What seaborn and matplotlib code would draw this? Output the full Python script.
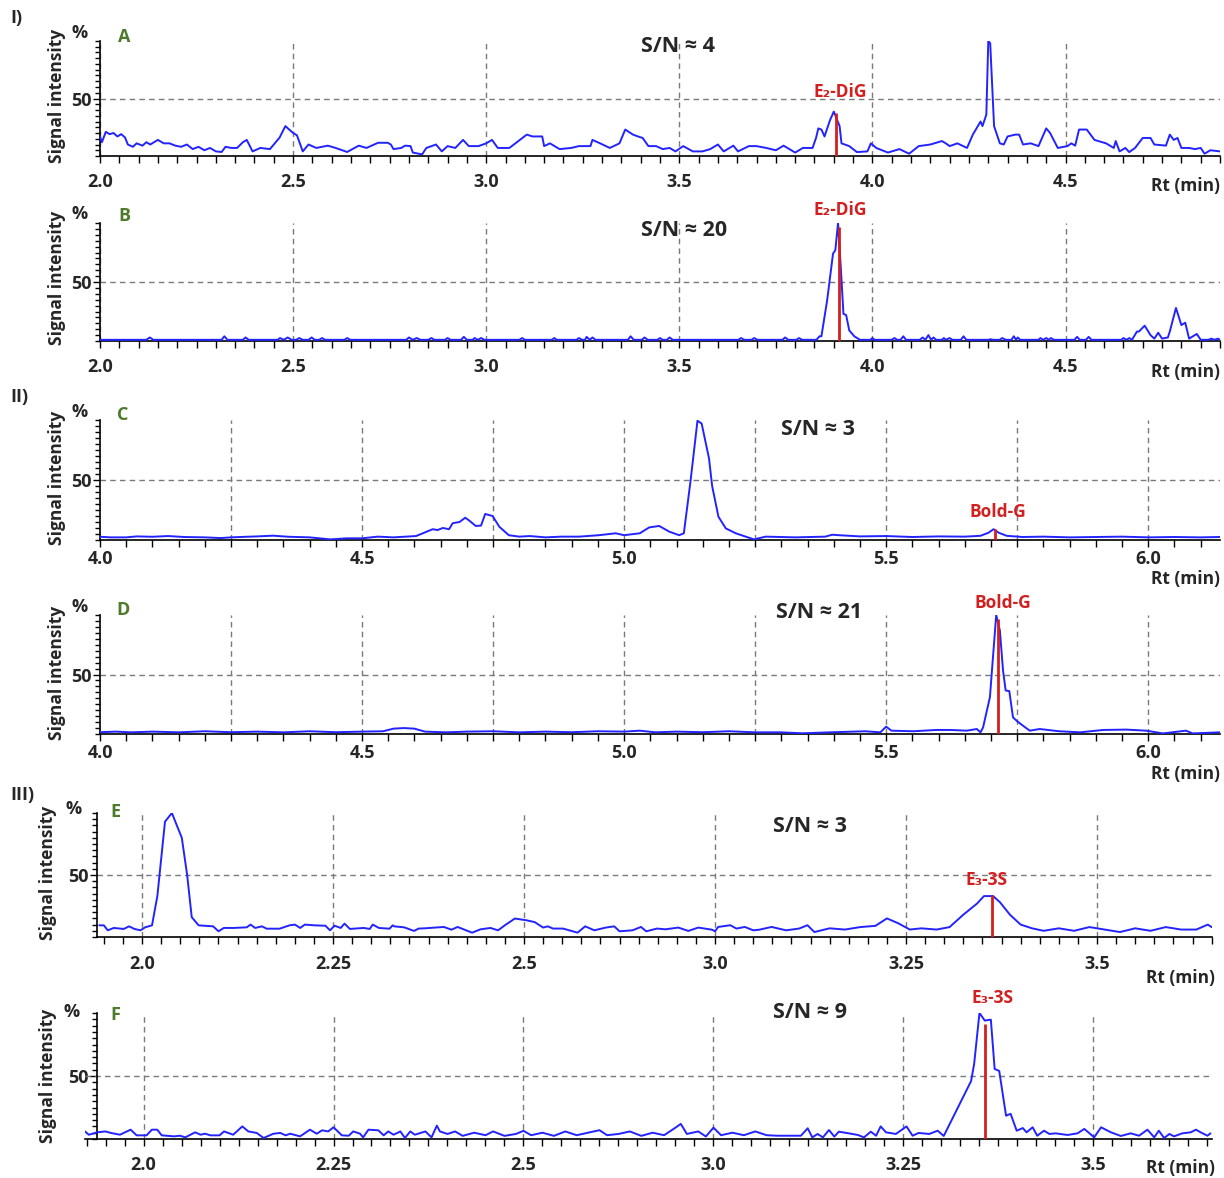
import matplotlib
matplotlib.use("Agg")
import matplotlib.pyplot as plt
from matplotlib.ticker import MultipleLocator
import seaborn as sns

# ---- data (x = Rt, y = % signal) ----
a_time = [2.000, 2.005, 2.015, 2.025, 2.035, 2.045, 2.055, 2.065, 2.072, 2.085, 2.095, 2.11, 2.12, 2.13, 2.15,
          2.165, 2.18, 2.195, 2.21, 2.225, 2.24, 2.255, 2.27, 2.285, 2.30, 2.315, 2.325, 2.34, 2.355, 2.37,
          2.38, 2.395, 2.415, 2.44, 2.455, 2.465, 2.48, 2.50, 2.51, 2.525, 2.54, 2.56, 2.59, 2.61, 2.64, 2.67,
          2.69, 2.72, 2.745, 2.753, 2.76, 2.78, 2.79, 2.804, 2.81, 2.834, 2.845, 2.87, 2.885, 2.90, 2.92, 2.94,
          2.955, 2.98, 3.00, 3.015, 3.03, 3.06, 3.105, 3.12, 3.145, 3.15, 3.165, 3.19, 3.22, 3.24, 3.27, 3.275,
          3.295, 3.32, 3.345, 3.36, 3.38, 3.393, 3.405, 3.42, 3.44, 3.457, 3.475, 3.49, 3.51, 3.535, 3.56, 3.58,
          3.60, 3.615, 3.64, 3.652, 3.68, 3.70, 3.725, 3.75, 3.77, 3.80, 3.82, 3.845, 3.854, 3.86, 3.868, 3.876,
          3.89, 3.90, 3.915, 3.92, 3.94, 3.96, 3.987, 3.996, 4.01, 4.04, 4.07, 4.095, 4.12, 4.15, 4.18, 4.19,
          4.20, 4.22, 4.245, 4.26, 4.28, 4.285, 4.295, 4.30, 4.305, 4.315, 4.33, 4.34, 4.35, 4.37, 4.38, 4.39,
          4.41, 4.43, 4.45, 4.46, 4.48, 4.505, 4.515, 4.525, 4.535, 4.555, 4.575, 4.605, 4.625, 4.63, 4.64,
          4.655, 4.665, 4.68, 4.70, 4.72, 4.73, 4.76, 4.77, 4.78, 4.79, 4.80, 4.82, 4.835, 4.85, 4.86, 4.875, 4.90]
a_signal = [17, 12, 21, 19, 20, 17, 19, 16, 10, 8, 11, 9, 12, 10, 14,
            11, 11, 9, 8, 10, 6, 8, 5, 7, 4, 3.5, 8, 7, 7, 12,
            14, 4, 7, 6, 12, 16, 26, 20, 18, 4, 10, 7, 9, 7, 3.5, 9,
            7, 11.5, 11.5, 10, 6, 7, 9, 8.6, 3, 1.4, 7, 10, 4, 8.6, 7, 14,
            8.6, 8.6, 11, 14, 7, 7, 18.6, 17, 17, 8.6, 11, 6, 7, 8.6, 8.6, 14,
            11, 7, 11, 23, 18.6, 17, 15.7, 8.6, 8.6, 6, 7, 4, 8.6, 4, 4, 6,
            10, 4, 9, 4, 8.6, 8.6, 7, 5, 9, 3, 7, 7, 15.7, 24, 23, 17,
            31, 38.6, 26, 11, 8.6, 3.4, 4, 11, 7, 3, 6, 2, 8.6, 10, 13, 11,
            8.6, 11, 7, 18.6, 30, 26, 36, 100, 98, 26, 11, 10, 17, 18.6, 18.6, 10,
            11, 8.6, 24, 20, 7, 8.6, 11, 9, 23, 23, 14, 11, 7, 13, 4,
            7, 3.4, 7, 15.7, 15.7, 10, 9, 18.6, 14, 15.7, 7, 7, 6, 7, 2, 5, 4]

b_time = [2.00, 2.12, 2.129, 2.138, 2.315, 2.322, 2.33, 2.37, 2.377, 2.385, 2.46, 2.466, 2.476, 2.486, 2.496,
          2.508, 2.516, 2.525, 2.54, 2.548, 2.556, 2.568, 2.575, 2.583, 2.633, 2.64, 2.648, 2.793, 2.80, 2.81,
          2.82, 2.83, 2.85, 2.858, 2.866, 2.893, 2.90, 2.908, 2.935, 2.942, 2.95, 2.965, 2.97, 2.978, 2.987,
          2.995, 3.086, 3.093, 3.10, 3.17, 3.176, 3.183, 3.234, 3.24, 3.248, 3.256, 3.26, 3.268, 3.275, 3.283,
          3.367, 3.374, 3.382, 3.403, 3.41, 3.418, 3.443, 3.45, 3.457, 3.468, 3.475, 3.483, 3.653, 3.66, 3.668,
          3.687, 3.694, 3.702, 3.767, 3.774, 3.782, 3.803, 3.81, 3.818, 3.855, 3.863, 3.868, 3.883, 3.898,
          3.904, 3.911, 3.918, 3.925, 3.932, 3.94, 3.953, 3.968, 3.995, 4.0, 4.006, 4.05, 4.057, 4.064, 4.073,
          4.08, 4.087, 4.123, 4.13, 4.137, 4.145, 4.152, 4.158, 4.165, 4.18, 4.185, 4.19, 4.2, 4.207, 4.229,
          4.236, 4.243, 4.30, 4.306, 4.312, 4.33, 4.336, 4.345, 4.36, 4.366, 4.372, 4.376, 4.383, 4.43, 4.435,
          4.442, 4.45, 4.457, 4.462, 4.47, 4.523, 4.53, 4.537, 4.553, 4.56, 4.567, 4.645, 4.65, 4.658, 4.665,
          4.672, 4.685, 4.69, 4.705, 4.72, 4.73, 4.74, 4.75, 4.765, 4.77, 4.786, 4.80, 4.81, 4.82, 4.83, 4.84,
          4.85, 4.87, 4.878, 4.885, 4.895, 4.90]
b_signal = [1, 1, 3, 1, 1, 4, 1, 1, 3, 1, 1, 2.5, 1, 3, 1,
            1, 2.5, 1, 1, 3, 1, 1, 2.5, 1, 1, 2.5, 1, 1, 3, 1,
            2.5, 1, 1, 2.5, 1, 1, 2.5, 1, 1, 3.5, 1, 1, 2.5, 1, 2.5,
            1, 1, 2.5, 1, 1, 2.5, 1, 1, 2.5, 1, 1, 3.5, 1, 3, 1,
            1, 4, 1, 1, 3, 1, 1, 2.5, 1, 1, 3, 1, 1, 2.5, 1,
            1, 2.5, 1, 1, 3, 1, 1, 2.5, 1, 1, 4, 4, 35, 74,
            77, 100, 63, 23, 22, 9, 4, 1, 1, 2.5, 1, 1, 2.5, 1, 1,
            4, 1, 1, 3, 1, 5, 1, 3, 1, 1, 2.5, 1, 2.5, 1, 1,
            4, 1, 1, 1.5, 1, 1, 2.5, 1, 1, 4, 1, 3, 1, 1, 2.5,
            1, 2.5, 1, 2.5, 1, 1, 3.5, 1, 1, 3.5, 1, 1, 2.5, 1, 2.5,
            1, 8, 8, 13, 5, 2, 7, 2, 3, 8, 28, 13.5, 15.5, 2, 4, 6,
            1, 1, 2, 1, 2, 1]

c_time = [4.00, 4.02, 4.05, 4.07, 4.10, 4.13, 4.16, 4.20, 4.23, 4.25, 4.28, 4.30, 4.33, 4.36, 4.40, 4.44,
          4.47, 4.50, 4.53, 4.56, 4.603, 4.616, 4.628, 4.635, 4.644, 4.654, 4.666, 4.673, 4.686, 4.697, 4.705,
          4.717, 4.727, 4.735, 4.749, 4.762, 4.78, 4.80, 4.82, 4.85, 4.88, 4.914, 4.952, 4.984, 5.0, 5.03,
          5.048, 5.067, 5.086, 5.105, 5.114, 5.127, 5.14, 5.148, 5.162, 5.168, 5.18, 5.194, 5.213, 5.232,
          5.248, 5.27, 5.327, 5.384, 5.397, 5.41, 5.45, 5.50, 5.55, 5.60, 5.65, 5.68, 5.695, 5.705, 5.715,
          5.73, 5.76, 5.80, 5.85, 5.90, 5.95, 6.00, 6.05, 6.10, 6.137]
c_signal = [2.7, 2.2, 2.2, 3, 2.7, 3.3, 2.5, 2.2, 1.6, 2.2, 2.7, 3, 3.6, 2.7, 2.2, 0.5,
            1.4, 1.4, 2.8, 2.2, 3.3, 5.6, 7.8, 9, 8.3, 10, 9, 14, 15, 18.6, 16,
            11.7, 12, 21.7, 20, 11, 4, 2.8, 3.3, 2.2, 2.8, 2.8, 4, 5.6, 4, 5.6,
            10.5, 11.7, 7, 4, 5.6, 50, 99.4, 97, 68, 45, 19.4, 9.7, 5.6, 2.8,
            0.5, 2.8, 2.2, 2.8, 4.4, 4, 3, 3.3, 2.5, 3, 2.8, 3.5, 6, 9, 6,
            3.5, 2.5, 2.8, 2.2, 2.5, 2.8, 2.2, 2.5, 2.2, 2.5]

d_time = [4.00, 4.03, 4.06, 4.10, 4.15, 4.20, 4.25, 4.30, 4.35, 4.40, 4.45, 4.50, 4.54, 4.56, 4.58, 4.60,
          4.62, 4.66, 4.70, 4.75, 4.80, 4.85, 4.90, 4.95, 5.00, 5.03, 5.06, 5.10, 5.15, 5.20, 5.25, 5.298,
          5.34, 5.393, 5.46, 5.489, 5.5, 5.51, 5.552, 5.596, 5.622, 5.654, 5.673, 5.68, 5.685, 5.698, 5.71,
          5.717, 5.723, 5.728, 5.735, 5.742, 5.75, 5.761, 5.774, 5.793, 5.83, 5.87, 5.914, 5.958, 5.996,
          6.028, 6.072, 6.085, 6.137]
d_signal = [1.5, 2, 1.4, 2, 1.4, 2.3, 1.5, 2, 1.4, 2.3, 1.5, 2, 2.3, 4.5, 5, 4.5,
            2, 1.4, 2, 2.3, 1.4, 2, 1.5, 2.3, 2, 2.8, 1.4, 2, 1.5, 2.3, 1.4, 1.4,
            0.6, 1.4, 2.3, 1.4, 6.2, 2.8, 2.3, 3.4, 3.4, 2.8, 4.2, 1.4, 5.6, 31, 100,
            87, 53.5, 36.6, 36, 14, 10.7, 7, 2.8, 4.2, 2.3, 1.4, 3.4, 3.7, 2.8,
            0.5, 2.8, 0.5, 1.4]

# panels E/F: positions on an even 0.25 grid, printed tick labels kept as in the figure
e_time = [1.944, 1.95, 1.955, 1.963, 1.976, 1.983, 1.99, 1.998, 2.004, 2.013, 2.02, 2.03, 2.039, 2.052,
          2.059, 2.065, 2.074, 2.093, 2.10, 2.107, 2.12, 2.137, 2.142, 2.148, 2.157, 2.163, 2.18, 2.193, 2.20,
          2.207, 2.213, 2.226, 2.24, 2.246, 2.252, 2.26, 2.265, 2.272, 2.29, 2.298, 2.302, 2.31, 2.324, 2.328,
          2.33, 2.343, 2.356, 2.362, 2.37, 2.395, 2.405, 2.413, 2.432, 2.443, 2.456, 2.466, 2.475, 2.488,
          2.503, 2.514, 2.525, 2.531, 2.538, 2.551, 2.57, 2.58, 2.592, 2.607, 2.618, 2.625, 2.642, 2.653,
          2.66, 2.674, 2.685, 2.702, 2.715, 2.728, 2.746, 2.75, 2.754, 2.77, 2.778, 2.789, 2.80, 2.808, 2.824,
          2.843, 2.86, 2.871, 2.88, 2.90, 2.92, 2.94, 2.96, 2.975, 2.99, 3.005, 3.02, 3.04, 3.057, 3.075,
          3.093, 3.102, 3.114, 3.123, 3.136, 3.15, 3.165, 3.18, 3.20, 3.22, 3.24, 3.26, 3.28, 3.30, 3.32,
          3.34, 3.36, 3.38, 3.395, 3.40]
e_signal = [9.4, 9.4, 5.4, 7.3, 6.5, 8.6, 6.5, 5.4, 7.8, 9.4, 33, 93, 100, 80,
            50, 16, 9.4, 8.6, 4.6, 7.3, 7.3, 7.8, 10, 7.3, 8.6, 6.7, 6.7, 9.4, 10,
            7.3, 10, 9.4, 9.1, 5.4, 9.1, 7.3, 10.8, 6.5, 7.3, 6.5, 10, 7.3, 6.7, 9.4,
            8.6, 7.8, 4.9, 6.8, 7, 8.1, 5.9, 8.1, 3.5, 6.2, 7.3, 5.4, 9.5, 14.9,
            13.5, 12, 7.6, 8.6, 6.8, 6.8, 3.5, 8.6, 5.4, 7.6, 8.6, 4.6, 5.4, 8.1,
            4.6, 6.8, 6.2, 7.6, 4.9, 7.6, 5.9, 4.6, 8.1, 9.5, 6.8, 8.1, 5.4, 5.9, 8.1,
            5.4, 6.8, 9.5, 4, 7, 6, 8, 9, 15, 11, 6, 7, 6, 8, 18,
            27, 33, 33, 28, 18, 10, 7, 5, 7, 5, 8, 6, 4, 7, 5,
            8, 6, 6, 10, 8]

f_time = [1.923, 1.928, 1.933, 1.939, 1.95, 1.957, 1.969, 1.983, 1.991, 2.004, 2.011, 2.018, 2.024, 2.04,
          2.048, 2.055, 2.068, 2.075, 2.081, 2.088, 2.10, 2.106, 2.118, 2.13, 2.138, 2.149, 2.158, 2.171, 2.18,
          2.187, 2.193, 2.206, 2.219, 2.228, 2.235, 2.243, 2.25, 2.261, 2.27, 2.276, 2.285, 2.289, 2.296, 2.309,
          2.316, 2.322, 2.329, 2.338, 2.344, 2.351, 2.357, 2.371, 2.379, 2.386, 2.39, 2.40, 2.41, 2.42, 2.435,
          2.45, 2.46, 2.475, 2.49, 2.50, 2.51, 2.525, 2.54, 2.555, 2.57, 2.585, 2.60, 2.61, 2.625, 2.64, 2.655,
          2.67, 2.685, 2.70, 2.707, 2.715, 2.73, 2.74, 2.75, 2.76, 2.775, 2.79, 2.805, 2.82, 2.834, 2.865,
          2.874, 2.88, 2.887, 2.894, 2.902, 2.909, 2.915, 2.928, 2.94, 2.948, 2.957, 2.964, 2.97, 2.977, 2.99,
          3.004, 3.012, 3.02, 3.034, 3.045, 3.053, 3.089, 3.093, 3.10, 3.107, 3.115, 3.12, 3.126, 3.135, 3.141,
          3.149, 3.157, 3.162, 3.17, 3.176, 3.185, 3.192, 3.20, 3.216, 3.229, 3.238, 3.251, 3.26, 3.273, 3.286,
          3.299, 3.31, 3.321, 3.33, 3.336, 3.343, 3.35, 3.356, 3.367, 3.378, 3.385, 3.391, 3.40, 3.404]
f_signal = [6, 3.4, 4.2, 5.3, 6, 4.8, 3.4, 7.4, 2.9, 2.9, 7.4, 7.4, 2.9, 2.1,
            2.6, 1.3, 5.3, 3.4, 4.2, 2.9, 2.9, 6, 3.4, 10, 6, 4.8, 0.8, 4.2, 4.8,
            2.9, 4.2, 2.1, 7.4, 4.2, 6.9, 6, 9.3, 2.9, 2.6, 6, 4.2, 1.3, 7.4, 6.9,
            2.9, 6, 3.4, 6, 0.8, 6, 3.4, 6, 1.3, 10.6, 6, 4, 6, 2.5, 5,
            3, 6, 2.5, 4, 6.5, 3, 5, 2.5, 6, 3, 5, 7, 3, 4, 6, 2.5,
            5, 3, 9, 12, 4, 6, 2, 9, 3, 5, 3, 6, 3, 2.6, 2.6,
            8.5, 1.3, 4, 1.3, 7.1, 1.9, 5.8, 4.5, 3.2, 1.3, 5.8, 2.6, 10, 5.3, 4,
            10, 2.6, 4.8, 4, 6.6, 2.4, 46, 59.5, 100, 94, 94.7, 55.6, 54, 18.5, 20,
            6.6, 8.7, 5.3, 9.3, 2.6, 6.6, 4, 4.5, 3.2, 4.5, 8, 1.3, 9.3, 5.3, 2.4,
            4.5, 2.6, 7.4, 1.3, 6.6, 0.8, 4, 2.1, 4.5, 5.3, 7.4, 5.3, 2.6, 4.5]

ab_ticks = [2.0, 2.5, 3.0, 3.5, 4.0, 4.5]
ab_labels = ["2.0", "2.5", "3.0", "3.5", "4.0", "4.5"]
cd_ticks = [4.0, 4.5, 5.0, 5.5, 6.0]
cd_labels = ["4.0", "4.5", "5.0", "5.5", "6.0"]
cd_grid = [4.25, 4.5, 4.75, 5.0, 5.25, 5.5, 5.75, 6.0]
ef_ticks = [2.0, 2.25, 2.5, 2.75, 3.0, 3.25]
ef_labels = ["2.0", "2.25", "2.5", "3.0", "3.25", "3.5"]

sn_texts = ["S/N ≈ 4", "S/N ≈ 20", "S/N ≈ 3", "S/N ≈ 21", "S/N ≈ 3", "S/N ≈ 9"]
peak_names = ["E₂-DiG", "E₂-DiG", "Bold-G", "Bold-G", "E₃-3S", "E₃-3S"]
peak_rt = [3.905, 3.913, 5.708, 5.714, 3.113, 3.107]
peak_top = [37, 97, 9, 97, 34, 91]

# ---- figure ----
sns.set_theme(style="white")
plt.rcParams['font.family'] = ['Open Sans', 'DejaVu Sans']

W, H = 1224, 1178
fig = plt.figure(figsize=(W / 100, H / 100), dpi=100)

BLUE = "#2323ff"
RED = "#d21f1f"
GREEN = "#4e7a2c"


def px(x, y):
    return x / W, 1 - y / H


panels = [
    dict(letter="A", box=(100, 41, 1220, 156), xlim=(2.0, 4.90), x=a_time, y=a_signal,
         ticks=ab_ticks, labels=ab_labels, minor=0.05, grid=ab_ticks, pad=7, sn=(678, 46), lp=(124, 37),
         pk=(840, 92), rt=(1220, 186), pct=(80, 33), yl=(57, 96), spine=None),
    dict(letter="B", box=(100, 223, 1220, 341), xlim=(2.0, 4.90), x=b_time, y=b_signal,
         ticks=ab_ticks, labels=ab_labels, minor=0.05, grid=ab_ticks, pad=7, sn=(684, 230), lp=(124, 216),
         pk=(840, 210), rt=(1220, 372), pct=(80, 214), yl=(57, 278), spine=None),
    dict(letter="C", box=(100, 420, 1220, 540), xlim=(4.0, 6.137), x=c_time, y=c_signal,
         ticks=cd_ticks, labels=cd_labels, minor=0.05, grid=cd_grid, pad=2, sn=(818, 429), lp=(123, 415),
         pk=(998, 512), rt=(1220, 579), pct=(80, 412), yl=(57, 478), spine=None),
    dict(letter="D", box=(100, 615, 1220, 734), xlim=(4.0, 6.137), x=d_time, y=d_signal,
         ticks=cd_ticks, labels=cd_labels, minor=0.05, grid=cd_grid, pad=2, sn=(819, 612), lp=(123, 610),
         pk=(1003, 603), rt=(1220, 774), pct=(80, 607), yl=(57, 673), spine=None),
    dict(letter="E", box=(97, 813, 1212, 937), xlim=(1.941, 3.4005), x=e_time, y=e_signal,
         ticks=ef_ticks, labels=ef_labels, minor=0.025, grid=ef_ticks, pad=8, sn=(810, 826), lp=(115, 812),
         pk=(987, 880), rt=(1215, 978), pct=(74, 809), yl=(48, 873), spine=None),
    dict(letter="F", box=(85, 1013, 1212, 1139), xlim=(1.923, 3.406), x=f_time, y=f_signal,
         ticks=ef_ticks, labels=ef_labels, minor=0.025, grid=ef_ticks, pad=7, sn=(810, 1012), lp=(115, 1015),
         pk=(993, 998), rt=(1215, 1168), pct=(72, 1012), yl=(48, 1076), spine=1.939),
]

for i, p in enumerate(panels):
    l, t, r, b = p["box"]
    ax = fig.add_axes([l / W, 1 - b / H, (r - l) / W, (b - t) / H])
    ax.set_facecolor("none")

    for g in p["grid"]:
        ax.axvline(g, color="#7a7a7a", lw=1, ls=(0, (4, 3)), zorder=1)
    ax.axhline(50, color="#7a7a7a", lw=1, ls=(0, (4, 3)), zorder=1)

    sns.lineplot(x=p["x"], y=p["y"], ax=ax, color=BLUE, lw=1.4, sort=False,
                 estimator=None, zorder=3)
    ax.vlines(peak_rt[i], 0, peak_top[i], color=RED, lw=2, zorder=4)

    ax.set_xlim(*p["xlim"])
    ax.set_ylim(0, 100)
    ax.set_xlabel("")
    ax.set_ylabel("")

    for s in ["top", "right"]:
        ax.spines[s].set_visible(False)
    for s in ["left", "bottom"]:
        ax.spines[s].set_color("black")
        ax.spines[s].set_linewidth(1.2)
    if p["spine"] is not None:
        ax.spines["left"].set_position(("data", p["spine"]))

    ax.set_xticks(p["ticks"])
    ax.set_xticklabels(p["labels"], fontsize=13, fontweight="bold")
    ax.xaxis.set_minor_locator(MultipleLocator(p["minor"]))
    ax.set_yticks([50])
    ax.set_yticklabels(["50"], fontsize=13, fontweight="bold")
    ax.yaxis.set_minor_locator(MultipleLocator(5))
    ax.tick_params(axis="both", which="both", direction="out", color="black", width=1,
                   bottom=True, left=True)
    ax.tick_params(axis="x", which="major", length=5, pad=p["pad"])
    ax.tick_params(axis="x", which="minor", length=5)
    ax.tick_params(axis="y", which="major", length=5, pad=1)
    ax.tick_params(axis="y", which="minor", length=3.5)

    fig.text(*px(*p["sn"]), sn_texts[i], ha="center", va="center", fontsize=15.5, fontweight="bold")
    fig.text(*px(*p["lp"]), p["letter"], ha="center", va="center", fontsize=13, fontweight="bold",
             color=GREEN)
    fig.text(*px(*p["pk"]), peak_names[i], ha="center", va="center", fontsize=12.5, fontweight="bold",
             color=RED)
    fig.text(*px(*p["rt"]), "Rt (min)", ha="right", va="center", fontsize=12.5, fontweight="bold")
    fig.text(*px(*p["pct"]), "%", ha="center", va="center", fontsize=13, fontweight="bold")
    fig.text(*px(*p["yl"]), "Signal intensity", ha="center", va="center", rotation=90,
             fontsize=12.5, fontweight="bold")

fig.text(*px(10, 18), "I)", ha="left", va="center", fontsize=13, fontweight="bold")
fig.text(*px(10, 397), "II)", ha="left", va="center", fontsize=13, fontweight="bold")
fig.text(*px(10, 795), "III)", ha="left", va="center", fontsize=13, fontweight="bold")

fig.savefig("out.png", dpi=100)
